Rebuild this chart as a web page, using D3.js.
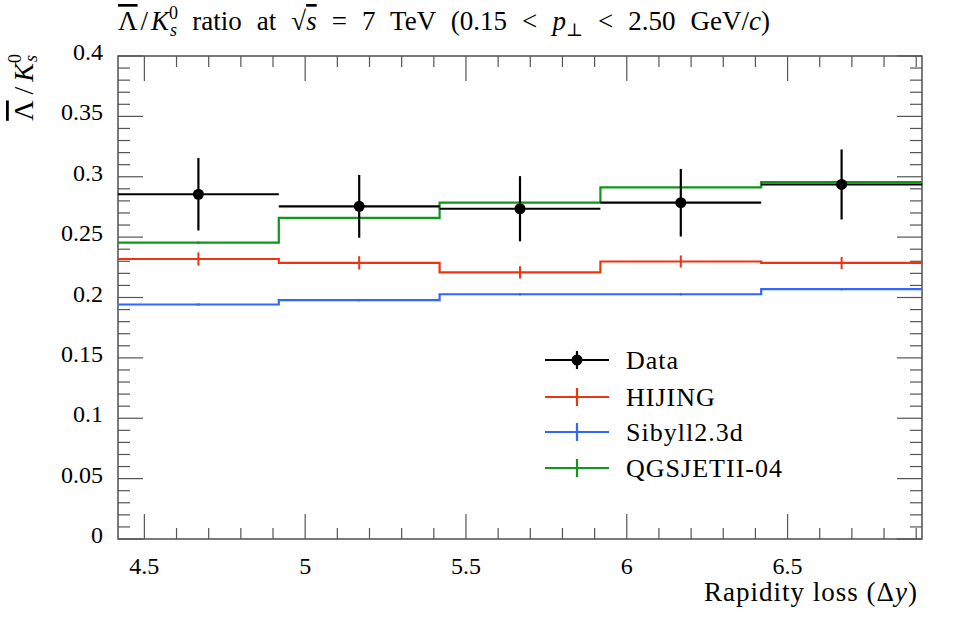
<!DOCTYPE html>
<html><head><meta charset="utf-8">
<script src="https://cdn.jsdelivr.net/npm/d3@7"></script>
<style>body{margin:0;background:#fff}svg{display:block}</style>
</head><body><svg id="c" width="953" height="620" font-family="'Liberation Serif', serif"></svg>
<script>
const binEdges = [4.418, 4.918, 5.418, 5.918, 6.418, 6.918];
const binCenters = [4.668, 5.168, 5.668, 6.168, 6.668];
const dataVals = [0.2855, 0.2755, 0.2735, 0.2785, 0.2936];
const dataErr = [0.030, 0.026, 0.027, 0.028, 0.029];
const hijingVals = [0.2319, 0.2287, 0.2208, 0.2298, 0.2286];
const hijingErr = [0.0055, 0.0055, 0.005, 0.005, 0.005];
const sibyllVals = [0.1942, 0.1978, 0.2027, 0.2027, 0.2069];
const sibyllErr = [0.001, 0.001, 0.001, 0.001, 0.001];
const qgsVals = [0.2454, 0.266, 0.2785, 0.2912, 0.2956];
const qgsErr = [0.001, 0.001, 0.001, 0.001, 0.001];
const xTicks = [4.5, 5, 5.5, 6, 6.5];
const xTickLabels = ["4.5", "5", "5.5", "6", "6.5"];
const yTicks = [0, 0.05, 0.1, 0.15, 0.2, 0.25, 0.3, 0.35, 0.4];
const yTickLabels = ["0", "0.05", "0.1", "0.15", "0.2", "0.25", "0.3", "0.35", "0.4"];
const legendNames = ["Data", "HIJING", "Sibyll2.3d", "QGSJETII-04"];

const FONT = "'Liberation Serif', 'DejaVu Serif', serif";
const colors = {data:"#000000", hijing:"#EE3311", sibyll:"#3366FF", qgs:"#109618"};
const L = 118, R = 922, T = 56, B = 539;
const svg = d3.select("#c");
const x = d3.scaleLinear().domain([binEdges[0], binEdges[5]]).range([L, R]);
const y = d3.scaleLinear().domain([0, 0.4]).range([B, T]);

function txt(sel) { return sel.append("text").style("font-family", FONT).attr("fill", "#000"); }
function fitSpacing(sel, target) {
  const n = sel.node();
  const w = n.getComputedTextLength();
  const chars = n.textContent.length;
  const ls = Math.max(0, (target - w) / chars);
  sel.style("letter-spacing", ls + "px");
  return ls;
}

// frame
svg.append("rect").attr("x", L).attr("y", T).attr("width", R-L).attr("height", B-T)
  .attr("fill", "none").attr("stroke", "#222").attr("stroke-width", 1.2);

// minor/major ticks
const xMinor = d3.range(44, 70).map(d => d/10).filter(v => v >= binEdges[0] && v <= binEdges[5]);
const yMinor = d3.range(0, 41).map(d => d/100);
const tg = svg.append("g").attr("stroke", "#555").attr("stroke-width", 1.2);
xMinor.forEach(v => {
  const major = Math.abs(v*2 - Math.round(v*2)) < 1e-6;
  const len = major ? 25 : 11;
  tg.append("line").attr("x1", x(v)).attr("x2", x(v)).attr("y1", B).attr("y2", B-len);
  tg.append("line").attr("x1", x(v)).attr("x2", x(v)).attr("y1", T).attr("y2", T+len);
});
yMinor.forEach(v => {
  const major = Math.abs(v*20 - Math.round(v*20)) < 1e-6;
  const len = major ? 25 : 12;
  tg.append("line").attr("x1", L).attr("x2", L+len).attr("y1", y(v)).attr("y2", y(v));
  tg.append("line").attr("x1", R).attr("x2", R-len).attr("y1", y(v)).attr("y2", y(v));
});

// tick labels
xTicks.forEach((v, i) => {
  txt(svg).attr("x", x(v)).attr("y", 574).attr("text-anchor", "middle")
    .attr("font-size", 24).text(xTickLabels[i]);
});
yTicks.forEach((v, i) => {
  txt(svg).attr("x", 103).attr("y", y(v) + 4).attr("text-anchor", "end")
    .attr("font-size", 24).text(yTickLabels[i]);
});

// histograms
function stepLine(vals, color) {
  const pts = [];
  vals.forEach((v, i) => { pts.push([binEdges[i], v]); pts.push([binEdges[i+1], v]); });
  svg.append("path").attr("d", d3.line().x(d => x(d[0])).y(d => y(d[1]))(pts))
    .attr("fill", "none").attr("stroke", color).attr("stroke-width", 2.2);
}
function errBars(vals, errs, color) {
  vals.forEach((v, i) => {
    svg.append("line").attr("x1", x(binCenters[i])).attr("x2", x(binCenters[i]))
      .attr("y1", y(v - errs[i])).attr("y2", y(v + errs[i]))
      .attr("stroke", color).attr("stroke-width", 2);
  });
}
stepLine(sibyllVals, colors.sibyll); errBars(sibyllVals, sibyllErr, colors.sibyll);
stepLine(hijingVals, colors.hijing); errBars(hijingVals, hijingErr, colors.hijing);
stepLine(qgsVals, colors.qgs); errBars(qgsVals, qgsErr, colors.qgs);

// data
dataVals.forEach((v, i) => {
  svg.append("line").attr("x1", x(binEdges[i])).attr("x2", x(binEdges[i+1]))
    .attr("y1", y(v)).attr("y2", y(v)).attr("stroke", "#000").attr("stroke-width", 2.2);
  svg.append("line").attr("x1", x(binCenters[i])).attr("x2", x(binCenters[i]))
    .attr("y1", y(v - dataErr[i])).attr("y2", y(v + dataErr[i])).attr("stroke", "#000").attr("stroke-width", 2.2);
  svg.append("circle").attr("cx", x(binCenters[i])).attr("cy", y(v)).attr("r", 5.5).attr("fill", "#000");
});

// legend
const legColors = [colors.data, colors.hijing, colors.sibyll, colors.qgs];
const legY = [360, 397, 432, 468];
const legTexts = [];
legendNames.forEach((n, i) => {
  const g = svg.append("g");
  g.append("line").attr("x1", 545).attr("x2", 609).attr("y1", legY[i]).attr("y2", legY[i])
    .attr("stroke", legColors[i]).attr("stroke-width", 2.2);
  g.append("line").attr("x1", 577).attr("x2", 577).attr("y1", legY[i]-9).attr("y2", legY[i]+9)
    .attr("stroke", legColors[i]).attr("stroke-width", 2.2);
  if (i === 0) g.append("circle").attr("cx", 577).attr("cy", legY[i]).attr("r", 5.5).attr("fill", "#000");
  legTexts.push(txt(g).attr("x", 626).attr("y", legY[i] + 9).attr("font-size", 26).text(n));
});
const lls = fitSpacing(legTexts[3], 157);
legTexts.forEach(t => t.style("letter-spacing", lls + "px"));

// title
const fs = 27, sub = 18;
const title = txt(svg).attr("x", 118).attr("y", 30).attr("font-size", fs);
title.append("tspan").style("text-decoration", "overline").text("Λ");
title.append("tspan").attr("dx", 3).text("/");
title.append("tspan").attr("dx", 3).attr("font-style", "italic").text("K");
title.append("tspan").attr("font-size", sub).attr("dy", -11).text("0");
title.append("tspan").attr("font-size", sub).attr("font-style", "italic").attr("dx", -8).attr("dy", 17).text("s");
title.append("tspan").attr("dy", -6).text(" ratio at ");
title.append("tspan").text("√");
title.append("tspan").attr("font-style", "italic").style("text-decoration", "overline").text("s");
title.append("tspan").text(" = 7 TeV (0.15 < ");
title.append("tspan").attr("font-style", "italic").text("p");
title.append("tspan").attr("font-size", sub).attr("dy", 6).text("⊥");
title.append("tspan").attr("dy", -6).text(" < 2.50 GeV/");
title.append("tspan").attr("font-style", "italic").text("c");
title.append("tspan").text(")");
{
  const w = title.node().getBBox().width;
  const nSp = (title.node().textContent.match(/ /g) || []).length;
  const ws = Math.max(0, (652 - w) / nSp);
  title.style("word-spacing", ws + "px");
}

// y label
const yl = txt(svg).attr("transform", "translate(33,54) rotate(-90)")
  .attr("text-anchor", "end").attr("font-size", 28);
yl.append("tspan").style("text-decoration", "overline").text("Λ");
yl.append("tspan").attr("dx", 6).text("/");
yl.append("tspan").attr("dx", 5).attr("font-style", "italic").text("K");
yl.append("tspan").attr("font-size", 18).attr("dy", -12).text("0");
yl.append("tspan").attr("font-size", 18).attr("font-style", "italic").attr("dx", -8).attr("dy", 16).text("s");

// x label
const xl = txt(svg).attr("x", 918).attr("y", 601).attr("text-anchor", "end").attr("font-size", 27);
xl.append("tspan").text("Rapidity loss (Δ");
xl.append("tspan").attr("font-style", "italic").text("y");
xl.append("tspan").text(")");
fitSpacing(xl, 214);
</script></body></html>
